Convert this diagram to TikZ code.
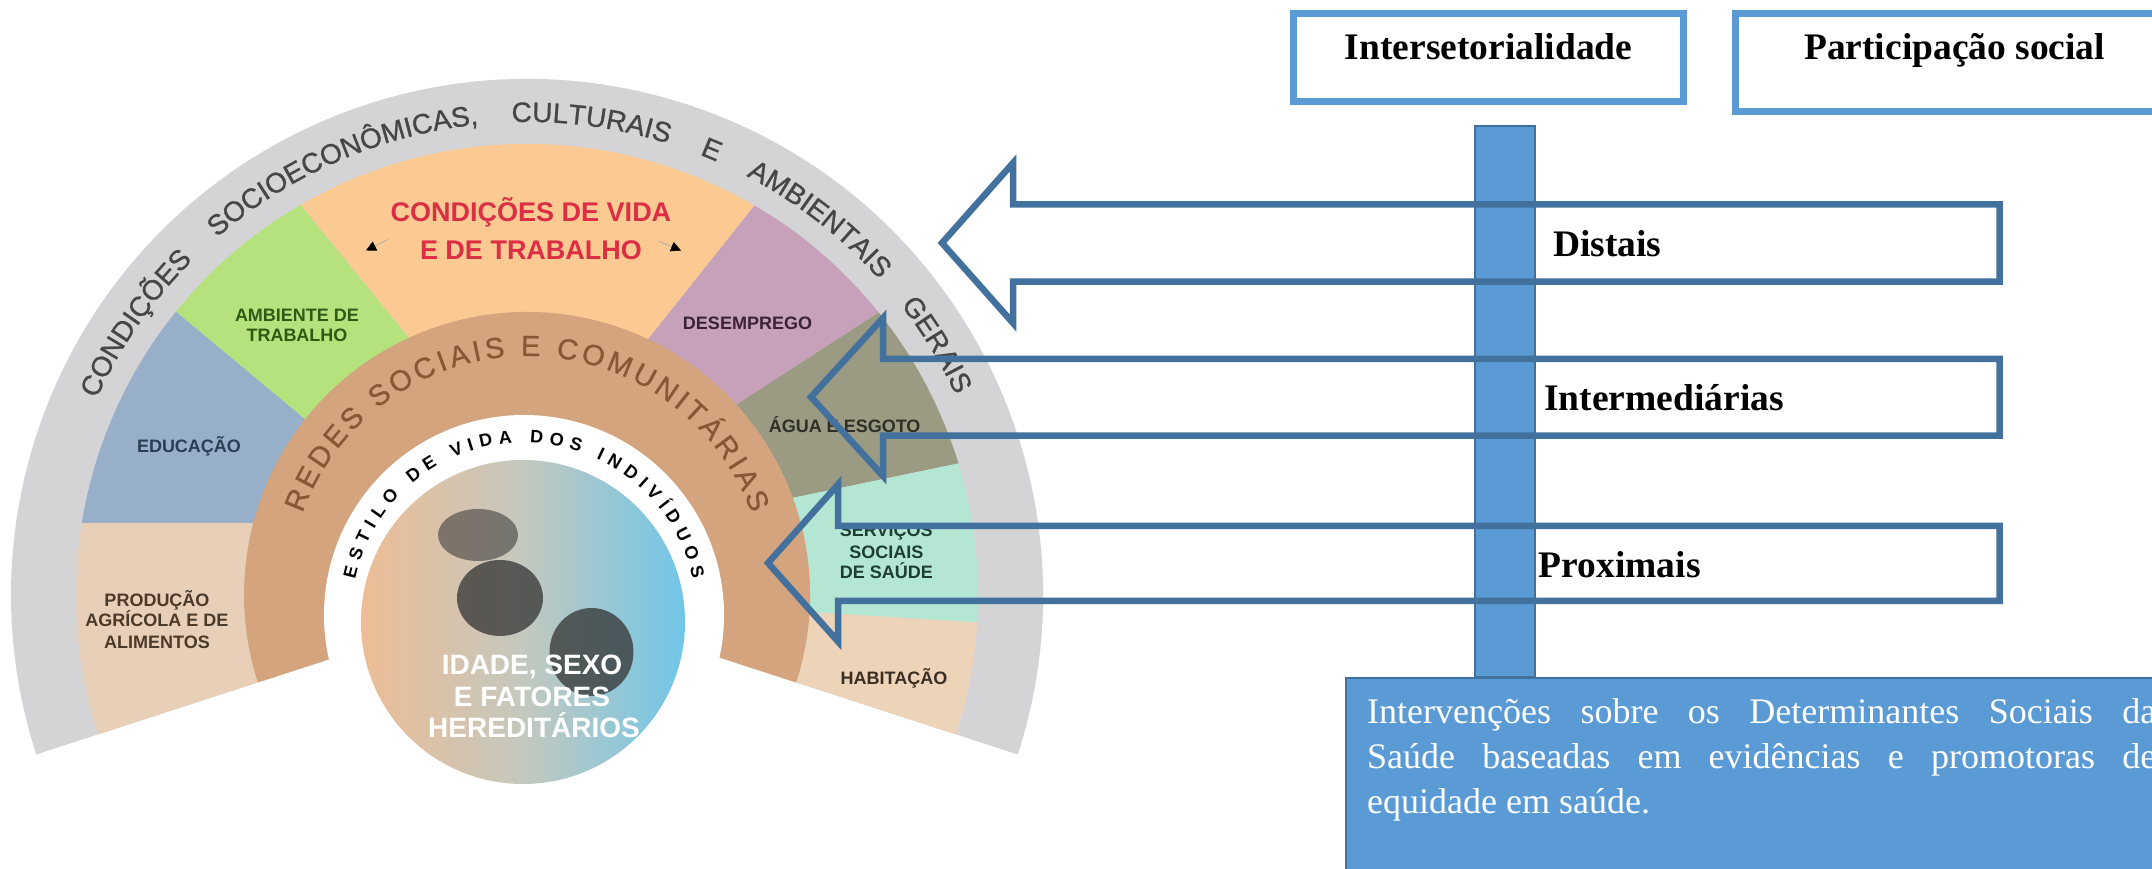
\documentclass[tikz,border=0pt]{standalone}
\usepackage{fontspec}
\setmainfont{Liberation Serif}
\newfontfamily\lsans{Liberation Sans}
\newfontfamily\lsansmed[FakeBold=0.9]{Liberation Sans}
\usetikzlibrary{calc,decorations.text,arrows.meta}
\definecolor{boxblue}{HTML}{5B9BD5}
\definecolor{arrowblue}{HTML}{41719C}
\definecolor{ringgray}{HTML}{D4D4D6}
\definecolor{ringtext}{HTML}{464646}
\definecolor{redestan}{HTML}{D4A47E}
\definecolor{redestext}{HTML}{8A5636}
\definecolor{cProd}{HTML}{E8D0B8}
\definecolor{cEduc}{HTML}{97AFC9}
\definecolor{cAmb}{HTML}{B5E27D}
\definecolor{cCond}{HTML}{FBC992}
\definecolor{cDes}{HTML}{C7A1BA}
\definecolor{cAgua}{HTML}{9B9A82}
\definecolor{cServ}{HTML}{B4E6D4}
\definecolor{cHab}{HTML}{EDD3B8}
\definecolor{condred}{HTML}{DC2F45}
\definecolor{tProd}{HTML}{4A3A2A}
\definecolor{tEduc}{HTML}{2C3E55}
\definecolor{tAmb}{HTML}{2E5A14}
\definecolor{tDes}{HTML}{3B2236}
\definecolor{tAgua}{HTML}{2F2F25}
\definecolor{tServ}{HTML}{1E3D33}
\definecolor{tHab}{HTML}{3A2E22}
\definecolor{pplL}{HTML}{EDBD95}
\definecolor{pplM}{HTML}{C4C8BE}
\definecolor{pplR}{HTML}{70C6E8}
\definecolor{blobc}{HTML}{333333}
\tikzset{
  sectlabel/.style={font=\lsans\bfseries\fontsize{18}{21}\selectfont, inner sep=0pt, anchor=base},
  condlabel/.style={font=\lsans\bfseries\fontsize{27}{30}\selectfont, inner sep=0pt, anchor=base, text=condred},
  ppllabel/.style={font=\lsans\bfseries\fontsize{28}{30}\selectfont, inner sep=0pt, anchor=base, text=white},
  arrowshape/.style={draw=arrowblue, line width=6.5pt, line join=miter, miter limit=10},
  topbox/.style={draw=boxblue, line width=7pt},
  boxlabel/.style={font=\bfseries\fontsize{37.5}{45}\selectfont, inner sep=0pt, anchor=base},
  arrowlabel/.style={font=\bfseries\fontsize{37.5}{45}\selectfont, inner sep=0pt, anchor=base west},
  bluebar/.style={draw=arrowblue, fill=boxblue, line width=2pt},
  smallarrow/.style={draw=gray!70, line width=0.6pt, -{Triangle[length=10pt,width=10pt,color=black]}},
}
\begin{document}
\begin{tikzpicture}[x=1pt,y=1pt]
\useasboundingbox (0,0) rectangle (2152,869);
\clip (0,0) rectangle (2152,869);
\fill[white] (0,0) rectangle (2152,869);

\coordinate (C) at (527,274);
\coordinate (W) at (524,254);
\coordinate (P) at (523,247);

% outer gray ring
\fill[ringgray] (C) -- ($(C)+(-18:516)$) arc[start angle=-18, end angle=198, radius=516] -- cycle;

% coloured sectors
\begin{scope}
  \clip (C) -- ($(C)+(-18:451)$) arc[start angle=-18, end angle=198, radius=451] -- cycle;
  \fill[cProd] (-100,346) -- (429.8,346) -- (438,339.2) -- (527,274) -- (527,-31) -- (-100,-31) -- cycle;
  \fill[cEduc] (-100,346) -- (429.8,346) -- (-99,786.5) -- cycle;
  \fill[cAmb] (-99,786.5) -- (438,339.2) -- (512.5,404) -- (-15,1051.8) -- cycle;
  \fill[cCond] (-15,1051.8) -- (512.5,404) -- (548,404) -- (1055.5,1041.5) -- cycle;
  \fill[cDes] (1055.5,1041.5) -- (548,404) -- (594,372) -- (1296,827) -- cycle;
  \fill[cAgua] (1296,827) -- (594,372) -- (633,338) -- (1348.5,486.5) -- cycle;
  \fill[cServ] (1348.5,486.5) -- (633,338) -- (646,267) -- (1375,222) -- cycle;
  \fill[cHab] (1375,222) -- (646,267) -- (527,274) -- (527,-31) -- (1375,-31) -- cycle;
\end{scope}

% redes ring
\fill[redestan] (C) -- ($(C)+(-18:283)$) arc[start angle=-18, end angle=198, radius=283] -- cycle;
\fill[white] (W) circle[radius=200];

% individuals circle
\shade[left color=pplL, right color=pplR, middle color=pplM] (P) circle[radius=162];
\fill[blobc, opacity=0.55] (478,334) ellipse[x radius=40, y radius=26];
\fill[blobc, opacity=0.75] (500,271) ellipse[x radius=43, y radius=38];
\fill[blobc, opacity=0.75] (591.5,217) ellipse[x radius=42, y radius=44];

% arc texts
\path[decorate, decoration={text along path,
  text={|\lsansmed\fontsize{28}{28}\selectfont\color{ringtext}|CONDIÇÕES SOCIOECONÔMICAS, CULTURAIS E AMBIENTAIS GERAIS},
  text align={fit to path stretching spaces}}]
  ($(C)+(155.5:473)$) arc[start angle=155.5, end angle=25, radius=473];
\path[decorate, decoration={text along path,
  text={|\lsansmed\fontsize{29}{29}\selectfont\color{redestext}|REDES SOCIAIS E COMUNITÁRIAS},
  text align={fit to path}}]
  ($(C)+(160:239)$) arc[start angle=160, end angle=20, radius=239];
\path[decorate, decoration={text along path,
  text={|\lsans\bfseries\fontsize{18}{18}\selectfont\color{black}|ESTILO DE VIDA DOS INDIVÍDUOS},
  text align={fit to path}}]
  ($(W)+(168:172.5)$) arc[start angle=168, end angle=12, radius=172.5];

% sector labels
\node[sectlabel, text=tProd] (prod1) at (157,262.6) {PRODUÇÃO};
\node[sectlabel, text=tProd] (prod2) at (157,242.1) {AGRÍCOLA E DE};
\node[sectlabel, text=tProd] (prod3) at (157,220.6) {ALIMENTOS};
\node[sectlabel, text=tEduc] (educ) at (189,416) {EDUCAÇÃO};
\node[sectlabel, text=tAmb] (amb1) at (297,547.3) {AMBIENTE DE};
\node[sectlabel, text=tAmb] (amb2) at (297,527) {TRABALHO};
\node[condlabel] (cond1) at (531,647.6) {CONDIÇÕES DE VIDA};
\node[condlabel] (cond2) at (531,609.7) {E DE TRABALHO};
\coordinate (la1) at (388,629.5);
\coordinate (la2) at (366,618.5);
\coordinate (ra1) at (658.7,627.7);
\coordinate (ra2) at (681,618.5);
\draw[smallarrow] (la1) -- (la2);
\draw[smallarrow] (ra1) -- (ra2);
\node[sectlabel, text=tDes] (des) at (747.5,539) {DESEMPREGO};
\node[sectlabel, text=tAgua] (agua) at (844.6,436.2) {ÁGUA E ESGOTO};
\node[sectlabel, text=tServ] (serv1) at (886.3,332.8) {SERVIÇOS};
\node[sectlabel, text=tServ] (serv2) at (886.3,310.6) {SOCIAIS};
\node[sectlabel, text=tServ] (serv3) at (886.3,290.2) {DE SAÚDE};
\node[sectlabel, text=tHab] (hab) at (894,184) {HABITAÇÃO};
\node[ppllabel] (ppl1) at (532,194) {IDADE, SEXO};
\node[ppllabel] (ppl2) at (532,162) {E FATORES};
\node[ppllabel] (ppl3) at (534,131) {HEREDITÁRIOS};

% right part
\draw[topbox] (1293.5,767.5) rectangle (1683.5,855.5);
\node[boxlabel] (inter) at (1488.5,809) {Intersetorialidade};
\draw[topbox] (1735.5,757.5) rectangle (2176,855.5);
\node[boxlabel] (part) at (1954.6,809) {Participação social};

\draw[bluebar] (1475,192) rectangle (1535,743);
\draw[bluebar, line width=2.5pt] (1345.8,-40) rectangle (2200,191.2);
\node[anchor=base west, inner sep=0pt, text=white, font=\fontsize{36}{45}\selectfont] (interv) at (1367,145.7)
  {\parbox[t]{789pt}{Intervenções sobre os Determinantes Sociais da\linebreak Saúde baseadas em evidências e promotoras de\linebreak equidade em saúde.}};

% block arrows
\draw[arrowshape] (1999.5,664.5) -- (1013,664.5) -- (1013,706) -- (942,626) -- (1013,546) -- (1013,587.3) -- (1999.5,587.3) -- cycle;
\draw[arrowshape] (1999.5,510) -- (883,510) -- (883,551) -- (811,472) -- (883,393) -- (883,433.3) -- (1999.5,433.3) -- cycle;
\draw[arrowshape] (1999.5,343) -- (838,343) -- (838,384.5) -- (768,306) -- (838,227.5) -- (838,268) -- (1999.5,268) -- cycle;
\node[arrowlabel] (dist) at (1553,612) {Distais};
\node[arrowlabel] (interm) at (1544,458.3) {Intermediárias};
\node[arrowlabel] (prox) at (1538.6,291.4) {Proximais};
\end{tikzpicture}
\end{document}
